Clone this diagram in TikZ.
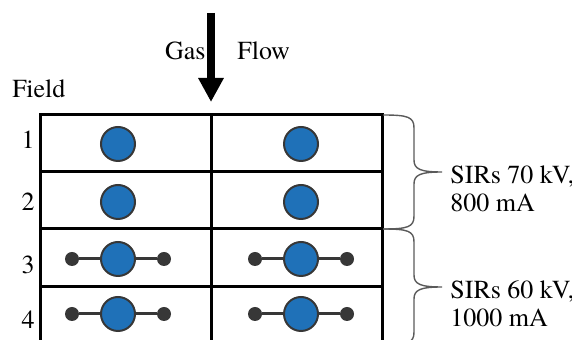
\documentclass[tikz,border=0pt]{standalone}
\usepackage{fontspec}
\newfontfamily\timesfont{texgyretermes-regular.otf}
\usepackage{tikz}
\usetikzlibrary{calc, arrows.meta}
\definecolor{sirblue}{RGB}{31,113,184}
\definecolor{rodgrey}{RGB}{55,55,55}
\definecolor{bracegrey}{RGB}{90,90,90}

\begin{document}
\begin{tikzpicture}[x=0.5pt, y=-0.5pt,
        every node/.style={font=\timesfont\fontsize{13}{14}\selectfont, inner sep=0pt},
        grid/.style={draw=black, line width=1.5pt},
        sir/.style={circle, draw=rodgrey, line width=1pt, fill=sirblue, minimum size=17pt},
        pindot/.style={circle, fill=rodgrey, minimum size=7pt},
        rod/.style={draw=rodgrey, line width=1.5pt},
        sirbrace/.style={draw=bracegrey, line width=0.7pt},
        flow/.style={line width=4pt, -{Triangle[width=12pt, length=12pt]}}]
            \useasboundingbox (0,0) rectangle (572,340);
            \clip (0,0) rectangle (572,340);
            % field grid
            \draw[grid] (40,115) rectangle (382,346);
            \draw[grid] (211,115) -- (211,346);
            \foreach \y in {172,229,287}
                \draw[grid] (40,\y) -- (382,\y);
            % labels
            \node[anchor=west] (field) at (12,89) {Field};
            \foreach \r/\y in {1/140,2/202,3/265,4/320}
                \node (num\r) at (28,\y) {\r};
            \node[anchor=east] (gas) at (206,51) {Gas};
            \node[anchor=west] (flowtxt) at (237,51) {Flow};
            \coordinate (flowtop) at (211,13);
            \coordinate (flowtip) at (211,102);
            \draw[flow] (flowtop) -- (flowtip);
            % SIRs
            \foreach \r/\y in {1/144,2/202,3/259,4/314}
                \foreach \c/\x in {1/118,2/301}
                    \node[sir] (s\r\c) at (\x,\y) {};
            \foreach \r in {3,4}
                \foreach \c in {1,2} {
                    \node[pindot] (a\r\c) at ($(s\r\c)+(-46,0)$) {};
                    \node[pindot] (b\r\c) at ($(s\r\c)+(46,0)$) {};
                    \draw[rod] (a\r\c) -- (s\r\c);
                    \draw[rod] (s\r\c) -- (b\r\c);
                }
            % braces
            \foreach \t/\m/\b in {115/172/229, 229/287/345}
                \draw[sirbrace] (383,\t) .. controls (408,\t) and (414,{\t+2}) .. (414,{\t+13})
                    -- (414,{\m-12}) .. controls (414,{\m-3}) and (420,\m) .. (442,\m)
                    .. controls (420,\m) and (414,{\m+3}) .. (414,{\m+12})
                    -- (414,{\b-13}) .. controls (414,{\b-2}) and (408,\b) .. (383,\b);
            \node[anchor=north west, align=left] (upper) at (450,165) {SIRs 70 kV,\\800 mA};
            \node[anchor=north west, align=left] (lower) at (450,280) {SIRs 60 kV,\\1000 mA};
        \end{tikzpicture}
\end{document}
